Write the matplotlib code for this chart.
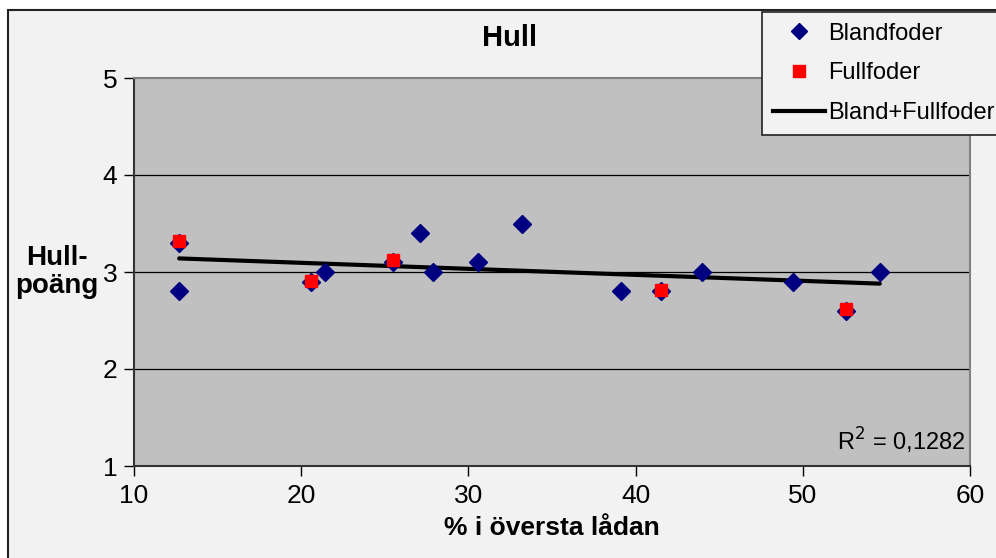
import numpy as np
import matplotlib.pyplot as plt
from matplotlib.patches import Rectangle
from matplotlib.lines import Line2D

# data
bland_x = [12.7, 12.7, 20.6, 21.4, 25.5, 27.1, 27.9, 30.6, 33.2, 39.1, 41.5, 44.0, 49.4, 52.6, 54.6]
bland_y = [3.3, 2.8, 2.9, 3.0, 3.1, 3.4, 3.0, 3.1, 3.5, 2.8, 2.8, 3.0, 2.9, 2.6, 3.0]
full_x = [12.7, 20.6, 25.5, 41.5, 52.6]
full_y = [3.32, 2.91, 3.12, 2.81, 2.62]
trend_x = [12.7, 54.6]
trend_y = [3.14, 2.88]
xticks = [10, 20, 30, 40, 50, 60]
yticks = [1, 2, 3, 4, 5]

plt.rcParams['font.family'] = ['Liberation Sans', 'DejaVu Sans']

fig = plt.figure(figsize=(9.96, 5.58), dpi=100, facecolor='white')
# outer chart frame
fig.patches.append(Rectangle((8/996, -0.05), 1.1, 1 - 10/558 + 0.05, transform=fig.transFigure,
                             facecolor='#f2f2f2', edgecolor='#222222', linewidth=1.5, zorder=-5))

ax = fig.add_axes([134/996, 1 - 466/558, 836/996, 388/558])
ax.set_zorder(1)
ax.set_facecolor('#c0c0c0')
ax.set_xlim(10, 60)
ax.set_ylim(1, 5)
ax.set_xticks(xticks)
ax.set_yticks(yticks)
for y in yticks[1:-1]:
    ax.axhline(y, color='black', linewidth=0.9, zorder=1)

ax.plot(trend_x, trend_y, color='black', linewidth=3, zorder=2, solid_capstyle='round')
ax.plot(bland_x, bland_y, linestyle='none', marker='D', ms=9, color='#000080', zorder=3)
ax.plot(full_x, full_y, linestyle='none', marker='s', ms=9, color='#ff0000', zorder=4)

for s in ['left', 'bottom']:
    ax.spines[s].set_color('#333333')
    ax.spines[s].set_linewidth(1.5)
for s in ['top', 'right']:
    ax.spines[s].set_color('#808080')
    ax.spines[s].set_linewidth(1.5)

ax.tick_params(axis='both', direction='out', length=7, width=1, colors='black')
ax.tick_params(axis='y', labelsize=19, pad=5)
ax.tick_params(axis='x', labelsize=19, pad=6)

fig.text(510/996, 1 - 38/558, 'Hull', fontsize=21, fontweight='bold', ha='center', va='center')
ax.set_xlabel('% i översta lådan', fontsize=19, fontweight='bold', labelpad=6)
fig.text(57/996, 1 - 272/558, 'Hull-\npoäng', fontsize=20, fontweight='bold',
         ha='center', va='center', linespacing=1.1)

ax.text(0.995, 0.065, 'R$^2$ = 0,1282', transform=ax.transAxes, ha='right', va='center',
        fontsize=17)

handles = [Line2D([], [], linestyle='none', marker='D', ms=8, color='#000080'),
           Line2D([], [], linestyle='none', marker='s', ms=8, color='#ff0000'),
           Line2D([], [], color='black', linewidth=3)]
leg = fig.legend(handles, ['Blandfoder', 'Fullfoder', 'Bland+Fullfoder'],
                 loc='upper left', bbox_to_anchor=(762/996, 1 - 12/558),
                 fontsize=17, frameon=True, fancybox=False, facecolor='#f2f2f2',
                 edgecolor='#222222', framealpha=1, handlelength=2.2, handletextpad=0.15,
                 labelspacing=0.75, borderpad=0.45, borderaxespad=0)
leg.get_frame().set_linewidth(1.2)
leg.set_zorder(5)

fig.savefig('out.png', dpi=100, facecolor=fig.get_facecolor())
